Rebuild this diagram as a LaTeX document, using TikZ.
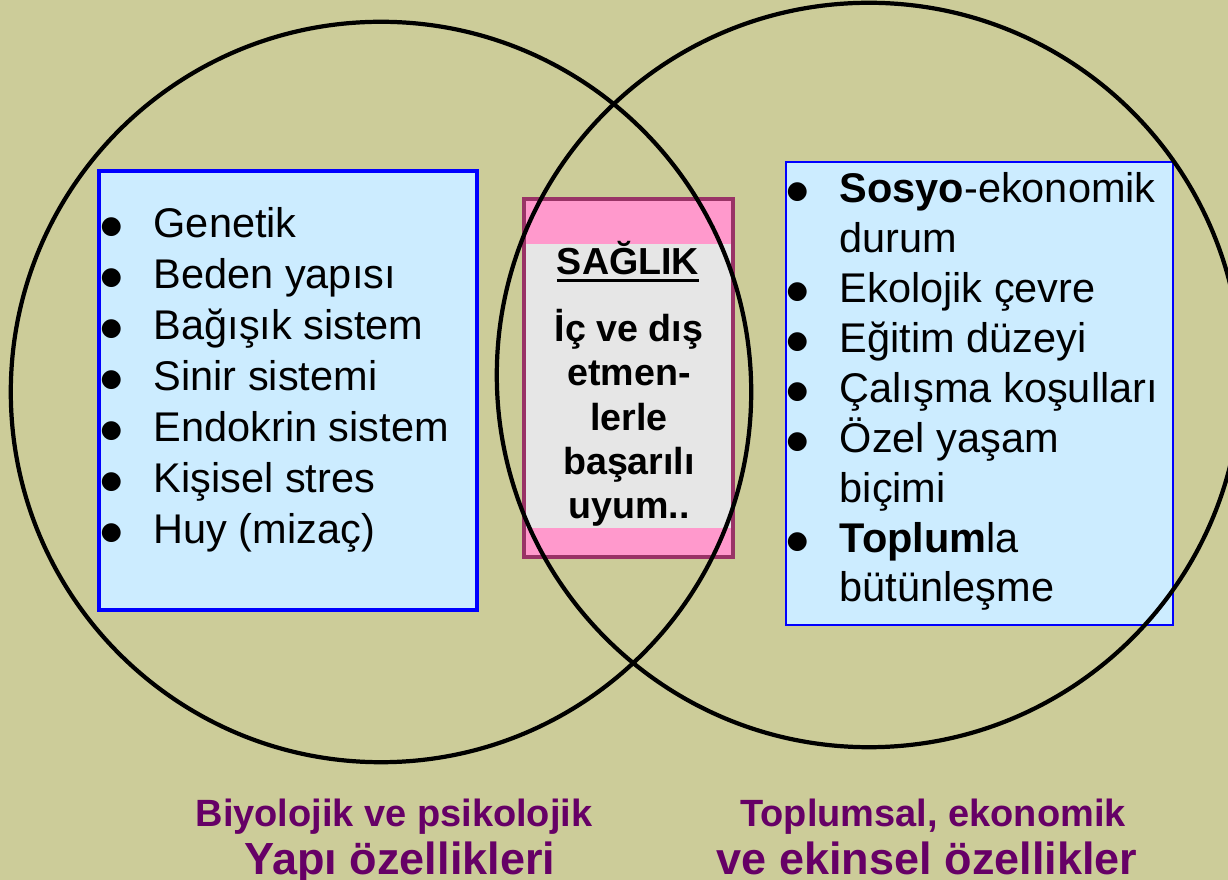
\documentclass[tikz,border=0pt]{standalone}
\usepackage{fontspec}
\setmainfont{Liberation Sans}
\newfontfamily\symfont{DejaVu Sans}
\usepackage{tikz}

\definecolor{khaki}{HTML}{CCCC99}
\definecolor{lblue}{HTML}{CCECFF}
\definecolor{pinkband}{HTML}{FF99CC}
\definecolor{maroon}{HTML}{993366}
\definecolor{lgray}{HTML}{E6E6E6}
\definecolor{plum}{HTML}{660066}

\newcommand{\blt}{\llap{\raisebox{1.2pt}{\fontsize{7}{7}\symfont ●}\hspace{9pt}}}
\newcommand{\ulin}[1]{\setbox0\hbox{#1}\rlap{\rule[-2.1pt]{\wd0}{0.85pt}}\box0}

\begin{document}
\begin{tikzpicture}[x=0.01cm, y=-0.01cm,
  item/.style = {anchor=base west, inner sep=0, font=\fontsize{11.8}{14}\selectfont},
  mid/.style = {anchor=base, inner sep=0, font=\bfseries\fontsize{10.7}{12.6}\selectfont},
  caption/.style = {anchor=base, inner sep=0, text=plum, font=\bfseries\fontsize{10.8}{13}\selectfont},
  bigcaption/.style = {caption, font=\bfseries\fontsize{12.8}{15}\selectfont},
  ring/.style = {draw=black, line width=1.2pt},
  listbox/.style = {fill=lblue, draw=blue}]

\useasboundingbox (0,0) rectangle (1228,880);
\fill[khaki] (0,0) rectangle (1228,880);

% boxes
\draw[listbox, line width=0.9pt] (99,171) rectangle (477,610);
\draw[listbox, line width=0.4pt] (786,162) rectangle (1173,625);

\fill[pinkband] (524,199) rectangle (733,557);
\fill[lgray] (524,244) rectangle (733,528);
\draw[maroon, line width=0.9pt] (524,199) rectangle (733,557);

% circles
\draw[ring] (381,392) circle [radius=3.70cm];
\draw[ring] (869,375) circle [radius=3.72cm];

% left list
\node[item] (l1) at (153,238) {\blt Genetik};
\node[item] (l2) at (153,289) {\blt Beden yapısı};
\node[item] (l3) at (153,340) {\blt Bağışık sistem};
\node[item] (l4) at (153,391) {\blt Sinir sistemi};
\node[item] (l5) at (153,442) {\blt Endokrin sistem};
\node[item] (l6) at (153,493) {\blt Kişisel stres};
\node[item] (l7) at (153,544) {\blt Huy (mizaç)};

% right list
\node[item] (r1) at (839,203) {\blt \textbf{Sosyo}-ekonomik};
\node[item] (r2) at (839,253) {durum};
\node[item] (r3) at (839,303) {\blt Ekolojik çevre};
\node[item] (r4) at (839,353) {\blt Eğitim düzeyi};
\node[item] (r5) at (839,403) {\blt Çalışma koşulları};
\node[item] (r6) at (839,453) {\blt Özel yaşam};
\node[item] (r7) at (839,503) {biçimi};
\node[item] (r8) at (839,553) {\blt \textbf{Toplum}la};
\node[item] (r9) at (839,602) {bütünleşme};

% middle
\node[mid] (s) at (628,275) {\ulin{SAĞLIK}};
\node[mid] (m1) at (629,342) {İç ve dış};
\node[mid] (m2) at (629,386) {etmen-};
\node[mid] (m3) at (629,431) {lerle};
\node[mid] (m4) at (629,475) {başarılı};
\node[mid] (m5) at (629,519) {uyum..};

% captions
\node[caption] (cl1) at (394,826) {Biyolojik ve psikolojik};
\node[bigcaption] (cl2) at (400,874) {Yapı özellikleri};
\node[caption] (cr1) at (933,826) {Toplumsal, ekonomik};
\node[bigcaption] (cr2) at (927,874) {ve ekinsel özellikler};

\end{tikzpicture}
\end{document}
